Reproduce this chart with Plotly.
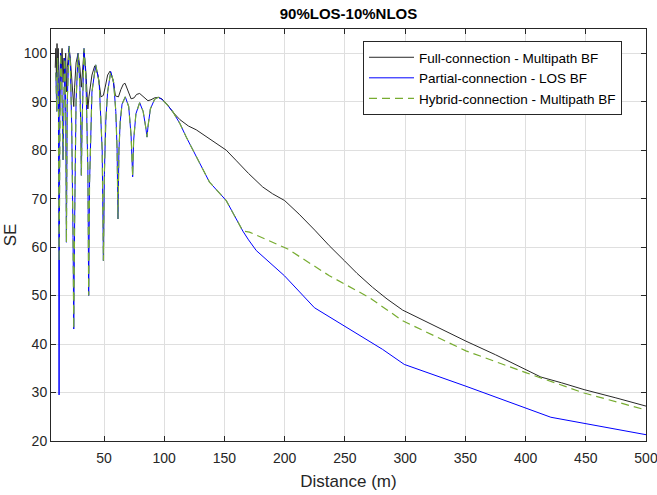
import plotly.graph_objects as go

# ---- data ----
full_dist = [9.5, 10, 10.5, 11, 11.5, 12, 12.7, 13.3, 14, 14.5, 15.2, 16, 16.8, 17.5, 18.2, 18.8,
             19.5, 20.3, 21, 22, 23.2, 24.3, 24.9, 25.6, 26.8, 28.5, 30, 31.2, 32.2, 33.4, 35,
             36.6, 37.5, 40, 42.3, 45, 47.5, 49.5, 51, 53, 55, 57.5, 59.5, 62, 64, 66, 67.5,
             69.5, 72.5, 75, 77, 79.6, 82, 84.5, 86.5, 89, 92, 95, 98, 102, 107, 113, 120,
             126.6, 135, 143, 151.5, 160, 170, 181.8, 190, 200, 212, 225, 237, 249.6, 260,
             273, 285, 298, 325, 350.5, 375, 400.2, 412.7, 430, 448.6, 475, 500]
full_se = [97, 101, 95, 102, 97, 101, 93, 88, 100, 97, 101, 94, 99, 96, 100, 92,
           97, 100, 101, 99, 95, 91, 89, 93, 98, 100, 97, 93, 97, 100.5, 96,
           88.5, 91, 95.5, 97.4, 95.5, 91.0, 91.3, 93, 95.5, 96.3, 94.5, 91.2, 91.0, 92.5, 93.6, 93.8,
           92.5, 90.6, 90.8, 91.5, 91.7, 91.2, 90.5, 90.2, 90.4, 90.8, 90.9, 90.6, 89.6, 87.9, 86.3, 85.0,
           84.2, 82.8, 81.4, 80.0, 77.8, 75.2, 72.4, 71.0, 69.6, 66.8, 63.5, 60.3, 57.2, 54.6,
           51.7, 49.3, 47.0, 43.7, 40.6, 37.8, 34.8, 33.2, 32.0, 30.6, 28.9, 27.2]

partial_dist = [10, 10.8, 11.5, 12.2, 12.7, 13.3, 14, 15, 16, 16.8, 17.5, 18.2, 18.8, 19.5, 20.3,
                21, 22, 23.2, 24.3, 24.9, 25.6, 26.8, 28.5, 30, 30.7, 31.2, 31.8, 33.4, 35, 36.6,
                37.3, 38, 40, 43.1, 46, 48.5, 49.5, 50.3, 51.5, 53, 55.6, 58, 59.8, 60.9, 61.6,
                62.4, 63.5, 65, 67.7, 70.5, 72.5, 73.8, 74.6, 76.5, 79.6, 82.5, 84.8, 85.7, 86.6,
                88.5, 92, 95, 98, 102, 107, 113, 118.3, 126.6, 137.6, 151.5, 165.3, 170, 176.4,
                199.8, 224.7, 281.3, 299.3, 350.5, 400.2, 421, 500]
partial_se = [96, 88, 99, 90, 29.5, 92, 100, 94, 78, 95, 99, 88, 61, 90, 99,
              101.5, 98, 85, 62, 43.1, 65, 90, 100, 93, 85, 74.8, 85, 101, 95, 76,
              50, 73, 92, 97.6, 94, 80, 57.2, 75, 86, 92, 96.2, 94, 88, 80, 65.8,
              80, 86, 89.5, 91.0, 89, 83, 74.5, 82, 87.5, 89.8, 88, 84.5, 82.7, 85,
              88.5, 90.5, 90.9, 90.5, 89.5, 88.0, 85.5, 82.7, 78.6, 73.4, 69.6, 63.3, 61.5, 59.3,
              54.1, 47.5, 38.9, 35.8, 31.3, 26.8, 24.9, 21.3]

hybrid_dist = [10, 10.8, 11.5, 12.2, 12.7, 13.3, 14, 15, 16, 16.8, 17.5, 18.2, 18.8, 19.5, 20.3,
               21, 22, 23.2, 24.3, 24.9, 25.6, 26.8, 28.5, 30, 30.7, 31.2, 31.8, 33.4, 35, 36.6,
               37.3, 38, 40, 43.1, 46, 48.5, 49.5, 50.3, 51.5, 53, 55.6, 58, 59.8, 60.9, 61.6,
               62.4, 63.5, 65, 67.7, 70.5, 72.5, 73.8, 74.6, 76.5, 79.6, 82.5, 84.8, 85.7, 86.6,
               88.5, 92, 95, 98, 102, 107, 113, 118.3, 126.6, 137.6, 151.5, 165.3, 170.8, 202.6,
               237.1, 270.3, 298, 350.5, 400.2, 448.6, 500]
hybrid_se = [96, 88, 99, 90, 57, 92, 100, 94, 78, 95, 99, 88, 61, 90, 99,
             101.5, 98, 85, 62, 43.1, 65, 90, 100, 93, 85, 74.8, 85, 101, 95, 76,
             50, 73, 92, 97.6, 94, 80, 57.2, 75, 86, 92, 96.2, 94, 88, 80, 65.8,
             80, 86, 89.5, 91.0, 89, 83, 74.5, 82, 87.5, 89.8, 88, 84.5, 82.7, 85,
             88.5, 90.5, 90.9, 90.5, 89.5, 88.0, 85.5, 82.7, 78.6, 73.4, 69.6, 63.3, 63.1, 59.6,
             54.1, 49.6, 44.8, 38.6, 34.1, 29.9, 26.4]

x_ticks = [50, 100, 150, 200, 250, 300, 350, 400, 450, 500]
y_ticks = [20, 30, 40, 50, 60, 70, 80, 90, 100]

FONT = "Liberation Sans, Arial, Helvetica, sans-serif"
AX = "rgb(38,38,38)"
GRID = "rgb(223,223,223)"

fig = go.Figure()
fig.add_trace(go.Scatter(x=full_dist, y=full_se, mode="lines",
                         name="Full-connection - Multipath BF",
                         line=dict(color="rgb(40,40,40)", width=1)))
fig.add_trace(go.Scatter(x=partial_dist, y=partial_se, mode="lines",
                         name="Partial-connection - LOS BF",
                         line=dict(color="rgb(0,0,255)", width=1)))
fig.add_trace(go.Scatter(x=hybrid_dist, y=hybrid_se, mode="lines",
                         name="Hybrid-connection - Multipath BF",
                         line=dict(color="rgb(119,172,48)", width=1.2, dash="8px,5px")))

fig.update_layout(
    width=657, height=495,
    margin=dict(l=51, r=11, t=29, b=54),
    paper_bgcolor="white", plot_bgcolor="white",
    font=dict(family=FONT, size=13, color=AX),
    title=dict(text="<b>90%LOS-10%NLOS</b>", x=(51 + 646) / 2 / 657, xanchor="center",
               y=1 - 14 / 495, yanchor="middle", font=dict(size=15, color="black")),
    legend=dict(x=(363 - 51) / 595, y=(441 - 41) / 412, xanchor="left", yanchor="top",
                bgcolor="white", bordercolor=AX, borderwidth=1, itemwidth=45,
                font=dict(size=13.5, color="black"), tracegroupgap=0),
    showlegend=True,
)
fig.update_xaxes(range=[6, 500], tickvals=x_ticks, ticks="inside", ticklen=5, tickcolor=AX,
                 showline=True, linecolor=AX, linewidth=1, mirror="ticks",
                 showgrid=True, gridcolor=GRID, gridwidth=1, zeroline=False, automargin=False,
                 ticklabeloverflow="allow", ticklabelstandoff=4,
                 tickfont=dict(size=14, color=AX),
                 title=dict(text="Distance (m)", font=dict(size=17, color=AX), standoff=10))
fig.update_yaxes(range=[20, 105], tickvals=y_ticks, ticks="inside", ticklen=5, tickcolor=AX,
                 showline=True, linecolor=AX, linewidth=1, mirror="ticks",
                 showgrid=True, gridcolor=GRID, gridwidth=1, zeroline=False, automargin=False,
                 ticklabeloverflow="allow",
                 tickfont=dict(size=14, color=AX),
                 title=dict(text="SE", font=dict(size=17, color=AX), standoff=2))

fig.write_html("out.html")
